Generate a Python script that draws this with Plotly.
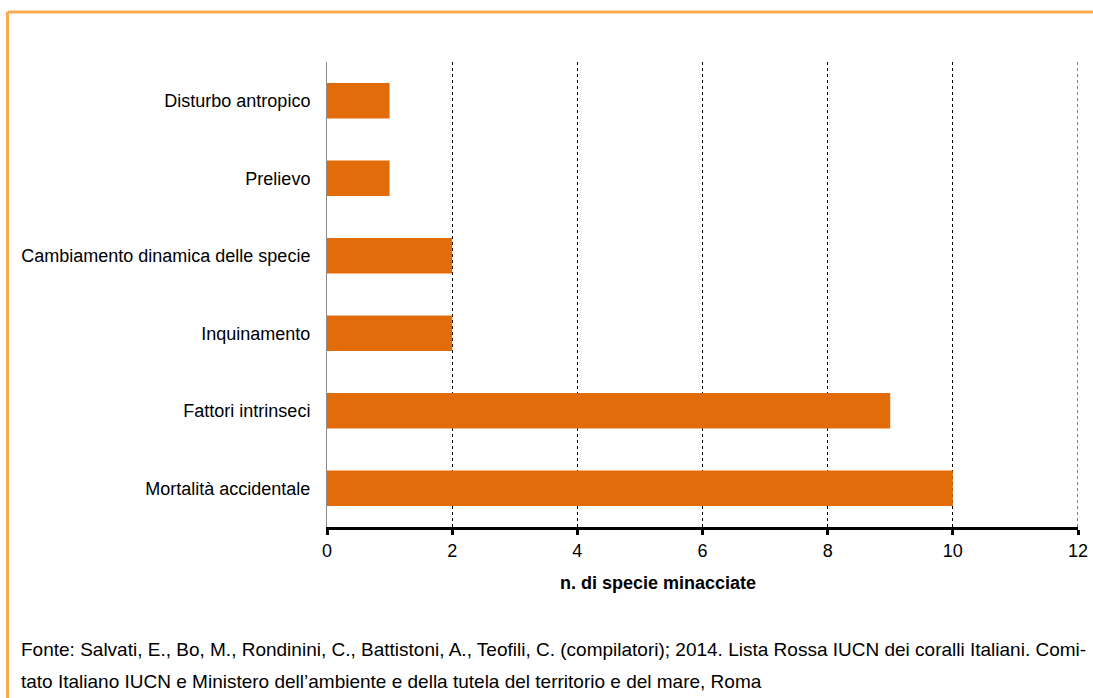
import plotly.graph_objects as go

# Threat categories (bottom to top) and number of threatened species
categories = [
    "Mortalità accidentale",
    "Fattori intrinseci",
    "Inquinamento",
    "Cambiamento dinamica delle specie",
    "Prelievo",
    "Disturbo antropico",
]
species_count = [10, 9, 2, 2, 1, 1]
x_ticks = [0, 2, 4, 6, 8, 10, 12]
x_max = 12

axis_title = "n. di specie minacciate"
source_lines = [
    "Fonte: Salvati, E., Bo, M., Rondinini, C., Battistoni, A., Teofili, C. (compilatori); 2014. "
    "Lista Rossa IUCN dei coralli Italiani. Comi-",
    "tato Italiano IUCN e Ministero dell\u2019ambiente e della tutela del territorio e del mare, Roma",
]

W, H = 1093, 698
L, R, T, B = 327, 15, 62, 171
pw, ph = W - L - R, H - T - B


def px_x(px):
    return (px - L) / pw


def px_y(py):
    return (H - B - py) / ph


fig = go.Figure(
    go.Bar(
        x=species_count,
        y=categories,
        orientation="h",
        marker=dict(color="#E36C0A", line=dict(width=0)),
        width=0.46,
    )
)

frame = dict(color="#F9A94F", width=3)

fig.update_layout(
    width=W,
    height=H,
    margin=dict(l=L, r=R, t=T, b=B),
    paper_bgcolor="white",
    plot_bgcolor="white",
    showlegend=False,
    font=dict(family="Liberation Sans, Arial, sans-serif", size=18, color="#000000"),
    xaxis=dict(
        range=[0, x_max],
        tickvals=x_ticks,
        automargin=False,
        showgrid=True,
        gridcolor="#000000",
        griddash="dot",
        gridwidth=1,
        zeroline=False,
        showline=True,
        linecolor="#000000",
        linewidth=3,
        ticks="outside",
        ticklen=5,
        tickwidth=3,
        tickcolor="#000000",
        tickfont=dict(size=18),
        layer="below traces",
    ),
    yaxis=dict(
        categoryorder="array",
        categoryarray=categories,
        range=[-0.5, 5.5],
        automargin=False,
        showgrid=False,
        zeroline=False,
        showline=True,
        linecolor="#8c8c8c",
        linewidth=1,
        ticks="",
        ticklabelstandoff=12,
        tickfont=dict(size=18),
    ),
    shapes=[
        # gridline at the right end of the value axis
        dict(type="line", xref="x", yref="paper",
             x0=x_max, x1=x_max, y0=0, y1=1, layer="below",
             line=dict(color="#000000", width=1, dash="dot")),
        # frame: top and left edges
        dict(type="line", xref="paper", yref="paper",
             x0=px_x(7.5), x1=px_x(W + 5), y0=px_y(12), y1=px_y(12),
             line=frame),
        dict(type="line", xref="paper", yref="paper",
             x0=px_x(7.5), x1=px_x(7.5), y0=px_y(12), y1=px_y(H + 5),
             line=frame),
    ],
    annotations=[
        dict(
            text=f"<b>{axis_title}</b>",
            xref="paper", yref="paper",
            x=px_x(658), y=px_y(583),
            xanchor="center", yanchor="middle",
            showarrow=False,
            font=dict(size=18, color="#000000"),
        )
    ] + [
        dict(
            text=line,
            xref="paper", yref="paper",
            x=px_x(19), y=px_y(cy),
            xanchor="left", yanchor="middle",
            align="left",
            showarrow=False,
            font=dict(family="Liberation Sans, Arial, sans-serif", size=19, color="#000000"),
        )
        for line, cy in zip(source_lines, [649, 681])
    ],
)

fig.write_html("out.html")
